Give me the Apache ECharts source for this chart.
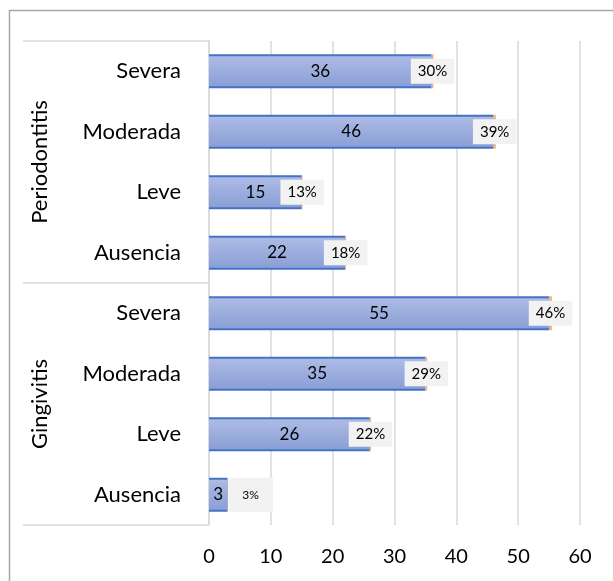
<!DOCTYPE html>
<html>
<head>
<meta charset="utf-8">
<script src="https://cdn.jsdelivr.net/npm/echarts@6/dist/echarts.min.js"></script>
<style>html,body{margin:0;padding:0;background:#fff}#c{width:613px;height:581px}</style>
</head>
<body>
<div id="c"></div>
<script>
// top-to-bottom order
var categories = ['Severa', 'Moderada', 'Leve', 'Ausencia', 'Severa', 'Moderada', 'Leve', 'Ausencia'];
var groups = ['Periodontitis', 'Gingivitis'];
var counts = [36, 46, 15, 22, 55, 35, 26, 3];
var percents = [30, 39, 13, 18, 46, 29, 22, 3];
var xTicks = [0, 10, 20, 30, 40, 50, 60];

var FONT = 'Lato';
var chart = echarts.init(document.getElementById('c'));

var pctData = percents.map(function (p, i) {
  var item = { value: p / 100 };
  if (counts[i] < 8) {
    item.label = { offset: [23, 0], fontSize: 12, padding: [11, 14] };
  }
  return item;
});

chart.setOption({
  animation: false,
  textStyle: { fontFamily: FONT },
  graphic: [{
    type: 'rect', silent: true,
    shape: { x: 9.5, y: 10.5, width: 800, height: 800 },
    style: { fill: 'none', stroke: '#a6a6a6', lineWidth: 1.5 }
  }],
  grid: { left: 209, right: 33, top: 41, bottom: 56, containLabel: false },
  xAxis: {
    type: 'value', min: xTicks[0], max: xTicks[xTicks.length - 1], interval: 10,
    axisLine: { show: false }, axisTick: { show: false },
    splitLine: { lineStyle: { color: '#d9d9d9', width: 1.5 } },
    axisLabel: { fontSize: 20, color: '#000', margin: 22, fontFamily: FONT }
  },
  yAxis: [{
    type: 'category', data: categories, inverse: true, position: 'left',
    axisLine: { lineStyle: { color: '#d9d9d9', width: 1.5 } },
    axisTick: { show: false },
    axisLabel: { fontSize: 22, color: '#000', margin: 28, fontFamily: FONT }
  }, {
    type: 'category', data: groups, inverse: true, position: 'left', offset: 0,
    axisLine: { show: false },
    axisTick: { show: true, length: 186, lineStyle: { color: '#d9d9d9', width: 1.5 } },
    axisLabel: { rotate: 90, fontSize: 22, color: '#000', margin: 158, fontFamily: FONT }
  }, {
    type: 'category', data: categories, inverse: true, position: 'right', show: false
  }],
  series: [{
    type: 'bar', name: 'edge', yAxisIndex: 0, stack: 'a', barWidth: 34,
    data: counts, itemStyle: { color: '#4472c4' }, silent: true
  }, {
    type: 'bar', name: 'pct', yAxisIndex: 0, stack: 'a', barWidth: 34, z: 5,
    data: pctData, itemStyle: { color: '#f4b183' },
    label: {
      show: true, position: 'inside', color: '#000', fontSize: 15, fontFamily: FONT,
      backgroundColor: '#f2f2f2', padding: [5, 7],
      formatter: function (p) { return percents[p.dataIndex] + '%'; }
    }
  }, {
    type: 'bar', name: 'fill', yAxisIndex: 2, barWidth: 30, z: 3,
    data: counts,
    itemStyle: {
      color: new echarts.graphic.LinearGradient(0, 0, 0, 1, [
        { offset: 0, color: '#adbbe5' }, { offset: 1, color: '#8a9fd6' }
      ])
    },
    label: { show: true, position: 'inside', color: '#000', fontSize: 17, fontFamily: FONT }
  }]
});
</script>
</body>
</html>
